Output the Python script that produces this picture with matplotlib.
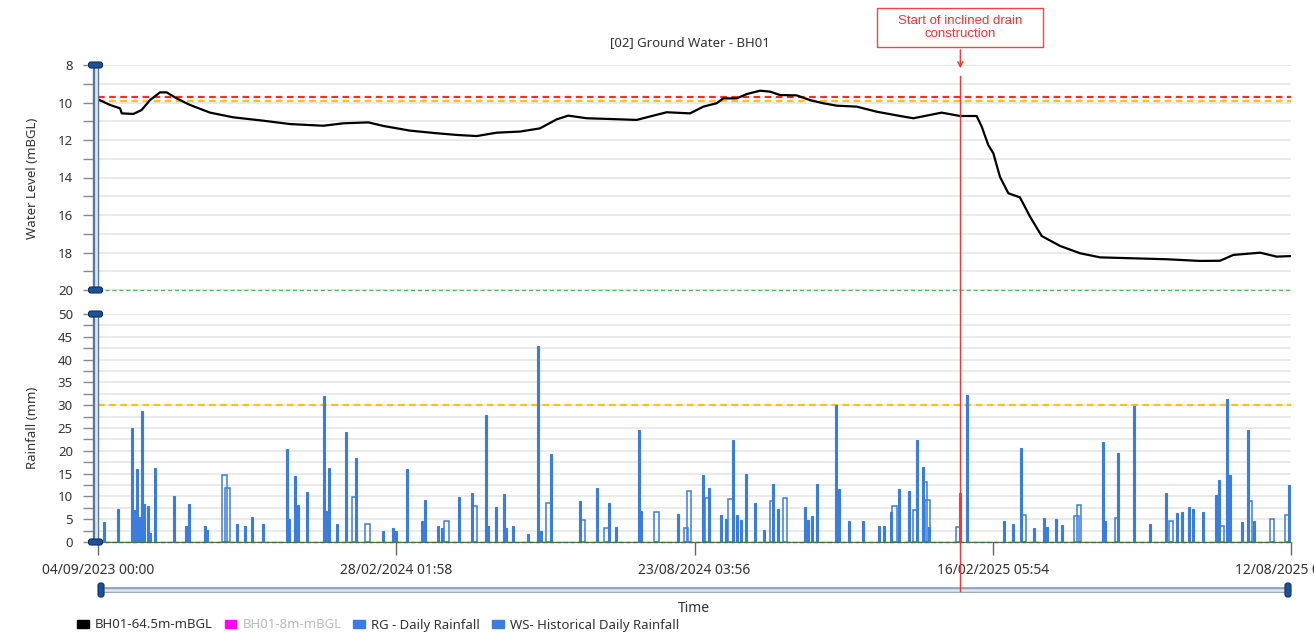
import numpy as np
import pandas as pd
import matplotlib
matplotlib.use('Agg')
import matplotlib.pyplot as plt
import matplotlib.dates as mdates
from matplotlib.patches import Patch, FancyBboxPatch, Rectangle, FancyArrowPatch
from matplotlib.lines import Line2D
from matplotlib.transforms import IdentityTransform

plt.rcParams['font.family'] = ['Noto Sans', 'DejaVu Sans']

# time axis
start = pd.Timestamp('2023-09-04 00:00')
tick_labels = ['04/09/2023 00:00', '28/02/2024 01:58', '23/08/2024 03:56',
               '16/02/2025 05:54', '12/08/2025 07:52']
event_date = pd.Timestamp('2025-01-28')
event_text = 'Start of inclined drain\nconstruction'

# water level (days since start, mBGL)
wl_day = [0, 7.1, 13.1, 14.1, 21.0, 25.9, 30.9, 36.8, 40.8, 46.7, 54.6, 66.5, 80.3, 98.1, 114.0,
          133.8, 145.6, 160.5, 169.4, 185.2, 201.1, 213.0, 224.8, 236.7, 250.6, 262.4, 272.3,
          279.2, 290.2, 304.0, 319.8, 329.7, 337.7, 351.5, 359.4, 367.3, 371.3, 379.2, 385.2,
          393.1, 399.0, 404.9, 414.8, 422.7, 430.6, 438.6, 450.5, 462.3, 476.2, 484.1, 492.0,
          500.9, 511.8, 521.7, 524.7, 528.6, 531.6, 535.5, 540.5, 547.4, 553.4, 560.3, 571.2,
          583.1, 595.0, 614.7, 634.5, 654.3, 666.2, 674.1, 690.0, 699.8, 708.3]
wl_level = [9.83, 10.13, 10.31, 10.58, 10.61, 10.40, 9.87, 9.46, 9.46, 9.78, 10.13, 10.54, 10.79,
            10.97, 11.15, 11.24, 11.11, 11.06, 11.25, 11.50, 11.64, 11.73, 11.79, 11.61, 11.55,
            11.38, 10.90, 10.70, 10.84, 10.88, 10.93, 10.70, 10.52, 10.58, 10.22, 10.04, 9.78,
            9.78, 9.55, 9.37, 9.42, 9.60, 9.62, 9.87, 10.04, 10.17, 10.22, 10.49, 10.72, 10.84,
            10.70, 10.54, 10.72, 10.72, 11.29, 12.27, 12.71, 13.96, 14.84, 15.06, 16.09, 17.12,
            17.65, 18.04, 18.26, 18.31, 18.36, 18.45, 18.44, 18.13, 18.01, 18.22, 18.19]
wl_red = 9.72
wl_amber = 9.9
wl_green = 20

# RG daily rainfall (days since start, mm)
rg_day = [3.6, 12.1, 20.0, 21.5, 23.0, 24.5, 25.9, 27.5, 29.5, 31.0, 34.0, 45.1, 52.0, 54.0, 63.5,
          65.0, 82.3, 87.0, 91.2, 97.8, 112.0, 113.6, 117.0, 119.0, 124.3, 134.4, 135.5, 137.2,
          142.1, 147.0, 153.0, 169.4, 175.3, 177.0, 183.3, 192.6, 194.1, 202.0, 204.0, 214.3,
          222.2, 230.2, 231.5, 236.3, 241.0, 242.5, 246.2, 255.5, 261.4, 263.0, 269.0, 286.2,
          296.1, 303.4, 307.4, 321.4, 322.5, 344.5, 359.4, 363.0, 369.7, 372.9, 376.8, 379.5,
          382.0, 384.7, 390.1, 395.7, 401.0, 404.0, 419.8, 421.5, 424.1, 427.1, 438.0, 440.1,
          445.9, 454.0, 463.9, 466.9, 470.8, 475.8, 481.7, 486.1, 489.6, 493.6, 511.8, 516.1,
          538.1, 543.1, 548.0, 555.9, 561.9, 563.5, 568.8, 572.2, 596.9, 598.0, 605.8, 615.3,
          624.6, 634.1, 640.8, 643.4, 647.8, 650.3, 656.3, 663.8, 665.8, 670.2, 672.1, 679.1,
          683.0, 686.4, 707.3]
rg_mm = [4.3, 7.2, 25.0, 7.0, 15.9, 5.5, 28.8, 8.3, 8.0, 2.0, 16.2, 10.0, 3.5, 8.4, 3.4, 2.6, 4.0,
         3.5, 5.4, 4.0, 20.5, 5.0, 14.4, 8.2, 11.0, 32.0, 6.7, 16.2, 4.0, 24.1, 18.5, 2.5, 3.0,
         2.5, 16.0, 4.7, 9.3, 3.6, 3.0, 9.9, 10.8, 27.9, 3.5, 7.6, 10.5, 3.0, 3.4, 1.7, 42.9, 2.5,
         19.4, 9.0, 11.9, 8.5, 3.2, 24.5, 6.7, 6.1, 14.7, 11.9, 5.9, 5.0, 22.4, 5.9, 4.8, 14.9,
         8.5, 2.7, 12.8, 7.3, 7.6, 4.8, 5.8, 12.8, 30.1, 11.7, 4.5, 4.6, 3.6, 3.6, 6.6, 11.7,
         11.2, 22.4, 16.4, 3.3, 10.8, 32.3, 4.5, 4.0, 20.7, 3.0, 5.2, 3.2, 5.0, 3.8, 21.9, 4.5,
         19.5, 29.9, 4.0, 10.8, 6.3, 6.5, 7.7, 7.3, 6.6, 10.2, 13.5, 31.4, 14.6, 4.3, 24.5, 4.5,
         12.4]

# WS historical daily rainfall (days since start, mm)
ws_day = [75.0, 77.0, 152.0, 160.0, 207.0, 224.0, 267.5, 288.0, 302.0, 331.7, 349.0, 351.0,
          361.5, 375.5, 400.0, 408.0, 473.0, 485.0, 491.0, 492.5, 510.5, 549.5, 581.0, 582.6,
          605.0, 637.1, 667.0, 684.0, 697.2, 706.0]
ws_mm = [14.8, 11.8, 9.9, 4.0, 4.5, 8.0, 8.6, 4.8, 3.0, 6.6, 3.0, 11.2, 9.7, 9.5, 9.0, 9.7, 8.0,
         7.0, 13.1, 9.2, 3.3, 5.9, 5.6, 8.2, 5.2, 4.7, 3.4, 9.0, 5.0, 5.9]
rain_amber = 30
rain_green = 0

legend_labels = ['BH01-64.5m-mBGL', 'BH01-8m-mBGL', 'RG - Daily Rainfall',
                 'WS- Historical Daily Rainfall']
legend_colors = ['black', '#ff00ff', '#3b7ddd', '#3b7ddd']

blue = '#3b7ddd'
grid_c = '#e6e6e6'
txt_c = '#333333'

tick_times = pd.to_datetime(tick_labels, dayfirst=True)
wl_time = start + pd.to_timedelta(wl_day, unit='D')
rg_time = start + pd.to_timedelta(rg_day, unit='D')
ws_time = start + pd.to_timedelta(ws_day, unit='D')

W, H = 1314, 636
fig = plt.figure(figsize=(W / 100, H / 100), dpi=100)


def px_rect(l, t, r, b):
    return [l / W, 1 - b / H, (r - l) / W, (b - t) / H]


ax1 = fig.add_axes(px_rect(98, 65, 1291, 290))
ax2 = fig.add_axes(px_rect(98, 314, 1291, 542))

# --- water level panel
ax1.plot(wl_time, wl_level, color='black', lw=1.6, zorder=5)
ax1.axhline(wl_red, color='#ff2b2b', ls=(0, (3, 2)), lw=1.6, zorder=3)
ax1.axhline(wl_amber, color='#ffc20e', ls=(0, (3, 2)), lw=1.6, zorder=3)
ax1.axhline(wl_green, color='#5cb85c', ls=(0, (3, 2)), lw=1.0, zorder=3, clip_on=False)
ax1.set_ylim(20, 8)
ax1.set_yticks(np.arange(8, 21, 2))
ax1.set_yticks(np.arange(9, 20, 2), minor=True)

# --- rainfall panel
ax2.bar(rg_time, rg_mm, width=1.2, color=blue, edgecolor=blue, lw=0.8, zorder=4)
ax2.bar(ws_time, ws_mm, width=2.6, facecolor='none', edgecolor=blue, lw=1.1, zorder=4)
ax2.axhline(rain_amber, color='#ffc20e', ls=(0, (3, 2)), lw=1.6, zorder=3)
ax2.axhline(rain_green, color='#2e7d32', ls=(0, (3, 2)), lw=1.0, zorder=5, clip_on=False)
ax2.set_ylim(0, 50)
ax2.set_yticks(np.arange(0, 51, 5))
ax2.set_yticks(np.arange(2.5, 50, 5), minor=True)

end = tick_times[-1]
for ax in (ax1, ax2):
    ax.set_xlim(start, end)
    ax.grid(axis='y', which='both', color=grid_c, lw=1.2, zorder=0)
    ax.set_axisbelow(True)
    for s in ax.spines.values():
        s.set_visible(False)
    ax.tick_params(axis='y', which='both', length=11, width=1, color='#888888',
                   labelcolor=txt_c, labelsize=9.5, pad=7)

ax1.tick_params(axis='x', which='both', bottom=False, labelbottom=False)
ax2.spines['bottom'].set_visible(True)
ax2.spines['bottom'].set_color('#666666')
ax2.set_xticks(tick_times)
ax2.set_xticklabels(tick_labels)
ax2.tick_params(axis='x', length=9, width=1, color='#666666', labelcolor=txt_c,
                labelsize=10, pad=6)
ax2.xaxis.set_minor_locator(plt.NullLocator())

# axis titles
fig.text(32 / W, 1 - 178 / H, 'Water Level (mBGL)', rotation=90, ha='center', va='center',
         fontsize=9.5, color=txt_c)
fig.text(32 / W, 1 - 428 / H, 'Rainfall (mm)', rotation=90, ha='center', va='center',
         fontsize=9.5, color=txt_c)
fig.text(690 / W, 1 - 43 / H, '[02] Ground Water - BH01', ha='center', va='center',
         fontsize=9.5, color=txt_c)
fig.text(694 / W, 1 - 609 / H, 'Time', ha='center', va='center', fontsize=10, color=txt_c)

# scrollbars
idt = IdentityTransform()


def handle(cx, cy, w, h):
    fig.add_artist(FancyBboxPatch((cx - w / 2, cy - h / 2), w, h,
                                  boxstyle='round,pad=0,rounding_size=2.5',
                                  fc='#1d5396', ec='#0d2f5c', lw=0.8, transform=idt,
                                  zorder=10))


for ax in (ax1, ax2):
    bb = ax.get_window_extent()
    x = bb.x0 - 2.5
    fig.add_artist(Line2D([x, x], [bb.y0, bb.y1], color='#56799c', lw=4.6,
                          transform=idt, zorder=9, solid_capstyle='butt'))
    fig.add_artist(Line2D([x, x], [bb.y0, bb.y1], color='#dbe6f1', lw=2.0,
                          transform=idt, zorder=9, solid_capstyle='butt'))
    handle(x, bb.y1, 14, 6)
    handle(x, bb.y0, 14, 6)

bb = ax2.get_window_extent()
ys = H - 590
fig.add_artist(Line2D([bb.x0, bb.x1], [ys, ys], color='#8fa6bd', lw=4.2, transform=idt,
                      zorder=9, solid_capstyle='butt'))
fig.add_artist(Line2D([bb.x0, bb.x1], [ys, ys], color='#dfe8f0', lw=1.8, transform=idt,
                      zorder=9, solid_capstyle='butt'))
handle(bb.x0 + 3, ys, 6, 14)
handle(bb.x1 - 3, ys, 6, 14)

# event marker
ev_x = ax2.transData.transform((mdates.date2num(event_date), 0))[0]
fig.add_artist(Line2D([ev_x, ev_x], [H - 591, H - 76], color='#ff3030', lw=1.0,
                      transform=idt, zorder=11))
fig.add_artist(FancyArrowPatch((ev_x, H - 47), (ev_x, H - 71), arrowstyle='->',
                               mutation_scale=9, color='#ff3030', lw=1.0, transform=idt,
                               zorder=11))
fig.add_artist(Rectangle((ev_x - 83, H - 47), 166, 39, fc='white', ec='#ff4040', lw=1.0,
                         transform=idt, zorder=11))
fig.text(ev_x / W, 1 - 27.5 / H, event_text, ha='center', va='center', color='#ff3030',
         fontsize=9.5, family=['Liberation Sans', 'DejaVu Sans'], linespacing=1.2,
         zorder=12)

# legend
handles = [Patch(fc=c, ec=c) for c in legend_colors]
leg = fig.legend(handles, legend_labels, loc='center left',
                 bbox_to_anchor=(77 / W, 1 - 625 / H), ncol=4, frameon=False, fontsize=9.5,
                 handlelength=0.9, handleheight=0.6, handletextpad=0.45, columnspacing=0.9,
                 borderpad=0, borderaxespad=0)
for t, c in zip(leg.get_texts(), [txt_c, '#bbbbbb', txt_c, txt_c]):
    t.set_color(c)

fig.savefig('out.png', dpi=100)
